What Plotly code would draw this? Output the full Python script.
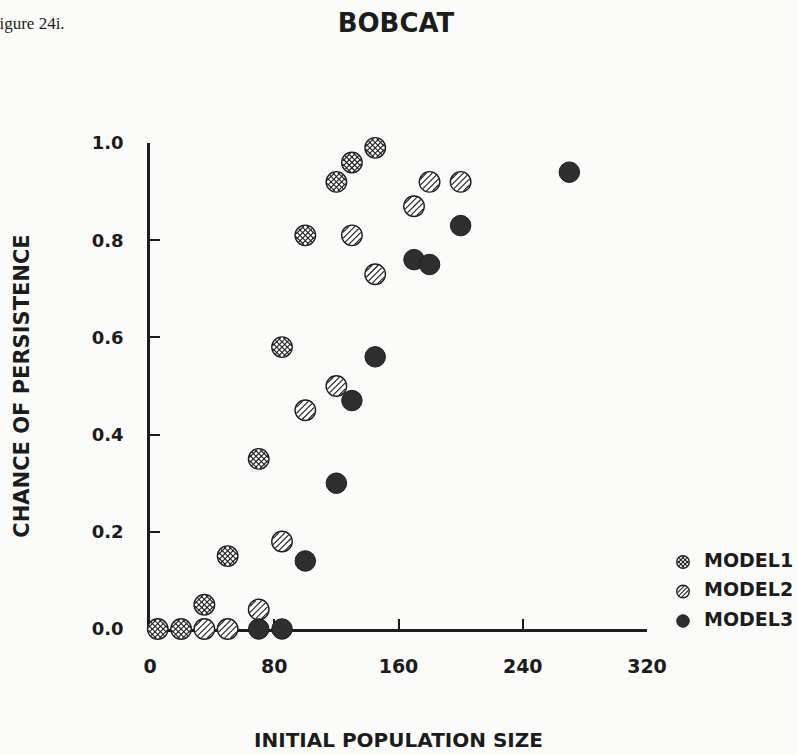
import math
import plotly.graph_objects as go

# ---------------- data ----------------
series_names = ["MODEL1", "MODEL2", "MODEL3"]
model1_x = [5, 20, 35, 50, 70, 85, 100, 120, 130, 145]
model1_y = [0.0, 0.0, 0.05, 0.15, 0.35, 0.58, 0.81, 0.92, 0.96, 0.99]
model2_x = [35, 50, 70, 85, 100, 120, 130, 145, 170, 180, 200]
model2_y = [0.0, 0.0, 0.04, 0.18, 0.45, 0.50, 0.81, 0.73, 0.87, 0.92, 0.92]
model3_x = [70, 85, 100, 120, 130, 145, 170, 180, 200, 270]
model3_y = [0.0, 0.0, 0.14, 0.30, 0.47, 0.56, 0.76, 0.75, 0.83, 0.94]
x_tickvals = [0, 80, 160, 240, 320]
x_ticktext = ["0", "80", "160", "240", "320"]
y_tickvals = [0.0, 0.2, 0.4, 0.6, 0.8, 1.0]
y_ticktext = ["0.0", "0.2", "0.4", "0.6", "0.8", "1.0"]
title_text = "BOBCAT"
figure_label = "Figure 24i."
x_title = "INITIAL POPULATION SIZE"
y_title = "CHANCE OF PERSISTENCE"

# ---------------- geometry / style ----------------
W, H = 798, 755
ML, MR, MT, MB = 100, 4, 100, 90
PW = W - ML - MR          # plot-area width
PH = H - MT - MB          # plot-area height
PA_BOTTOM = H - MB        # pixel row of plot-area bottom

# frame (visible axes) in page pixels
FX0, FX1 = 150, 647       # x = 0 .. 320
FY_TOP, FY_BOT = 143, 629  # y = 1 .. 0
X_RANGE = [0, 320]
Y_RANGE = [0, 1]
PPU_X = (FX1 - FX0) / (X_RANGE[1] - X_RANGE[0])
PPU_Y = (FY_BOT - FY_TOP) / (Y_RANGE[1] - Y_RANGE[0])

# data axes cover the whole plot area with the same scale as the frame
DATA_X_RANGE = [X_RANGE[0] + (ML - FX0) / PPU_X, X_RANGE[0] + (W - MR - FX0) / PPU_X]
DATA_Y_RANGE = [Y_RANGE[0] - (PA_BOTTOM - FY_BOT) / PPU_Y, Y_RANGE[0] + (FY_BOT - MT) / PPU_Y]

LEG_LEFT_PX = 660
LEG_W = W - MR - LEG_LEFT_PX   # 1 unit = 1 px
LEG_GLYPH_X = 23
LEG_TEXT_X = 44
LEG_TOP_PX = 562
LEG_GAP = 29.5

INK = "#1c1c1c"
DARK = "#2e2e2e"
PAPER = "#fbfbfa"
FONT = "DejaVu Sans"

MARK = 20.5      # marker diameter (px)
OUT_W = 1.4      # outline width
HATCH_W = 1.1

fig = go.Figure()
layout_axes = {}
counters = {"x": 3, "y": 3}
base_ranges = {"x2": DATA_X_RANGE, "y2": DATA_Y_RANGE, "x3": [0, LEG_W], "y3": [0, PH]}
shift_cache = {}


def axis_for(kind, base_id, shift):
    """Overlay axis whose range is shifted so marks appear `shift` data units away."""
    if abs(shift) < 1e-9:
        return base_id
    key = (kind, base_id, round(shift, 6))
    if key in shift_cache:
        return shift_cache[key]
    counters[kind] += 1
    n = counters[kind]
    aid = f"{kind}{n}"
    r0, r1 = base_ranges[base_id]
    layout_axes[f"{kind}axis{n}"] = dict(
        overlaying=base_id, range=[r0 - shift, r1 - shift], visible=False,
        fixedrange=True, showgrid=False, zeroline=False,
    )
    shift_cache[key] = aid
    return aid


def add_hatch(xs, ys, xa, ya, ppux, ppuy, r_in, spacing, kmax, symbols, lw):
    for sym in symbols:
        for k in range(-kmax, kmax + 1):
            d = k * spacing
            half = math.sqrt(max(r_in ** 2 - d ** 2, 0.0))
            if half < 1.0:
                continue
            size = half * math.sqrt(2)
            a = d / math.sqrt(2)
            dx = a
            dy = -a if sym == "line-ne" else a
            xid = axis_for("x", xa, dx / ppux)
            yid = axis_for("y", ya, dy / ppuy)
            fig.add_trace(go.Scatter(
                x=xs, y=ys, xaxis=xid, yaxis=yid, mode="markers",
                marker=dict(symbol=sym, size=size, color=INK,
                            line=dict(color=INK, width=lw)),
                cliponaxis=False, showlegend=False, hoverinfo="skip",
            ))


def add_series(xs, ys, xa, ya, ppux, ppuy, diam, kind, name, spacing, kmax):
    if kind == "solid":
        fig.add_trace(go.Scatter(
            x=xs, y=ys, xaxis=xa, yaxis=ya, mode="markers", name=name,
            marker=dict(symbol="circle", size=diam, color=DARK,
                        line=dict(color=INK, width=1)),
            cliponaxis=False, showlegend=False,
        ))
        return
    fig.add_trace(go.Scatter(
        x=xs, y=ys, xaxis=xa, yaxis=ya, mode="markers", name=name,
        marker=dict(symbol="circle", size=diam, color="white",
                    line=dict(color=INK, width=OUT_W)),
        cliponaxis=False, showlegend=False,
    ))
    syms = ["line-ne", "line-nw"] if kind == "cross" else ["line-ne"]
    add_hatch(xs, ys, xa, ya, ppux, ppuy, diam / 2 - 0.8, spacing, kmax, syms, HATCH_W)


# frame subplot (axes only)
fig.add_trace(go.Scatter(x=[], y=[], xaxis="x", yaxis="y", mode="markers",
                         showlegend=False, hoverinfo="skip"))

# ---------------- main scatter (on data axes, same scale as frame) ----------------
add_series(model1_x, model1_y, "x2", "y2", PPU_X, PPU_Y, MARK, "cross", series_names[0], 3.8, 2)
add_series(model2_x, model2_y, "x2", "y2", PPU_X, PPU_Y, MARK, "slash", series_names[1], 4.2, 2)
add_series(model3_x, model3_y, "x2", "y2", PPU_X, PPU_Y, MARK, "solid", series_names[2], 4.2, 2)

# ---------------- legend (drawn on its own small axes) ----------------
leg_y = [PA_BOTTOM - LEG_TOP_PX - i * LEG_GAP for i in range(len(series_names))]
leg_kinds = ["cross", "slash", "solid"]
for i, nm in enumerate(series_names):
    add_series([LEG_GLYPH_X], [leg_y[i]], "x3", "y3", 1.0, 1.0, 12.5, leg_kinds[i], nm, 3.0, 1)
fig.add_trace(go.Scatter(
    x=[LEG_TEXT_X] * len(series_names), y=leg_y, xaxis="x3", yaxis="y3",
    mode="text", text=series_names, textposition="middle right",
    textfont=dict(family=FONT, size=19, color=INK, weight="bold"),
    cliponaxis=False, showlegend=False, hoverinfo="skip",
))

axis_common = dict(
    showline=True, linewidth=2.5, linecolor=INK, ticks="inside", ticklen=10,
    tickwidth=2.2, tickcolor=INK, showgrid=False, zeroline=False,
    layer="below traces", fixedrange=True,
)

fig.update_layout(
    width=W, height=H,
    margin=dict(l=ML, r=MR, t=MT, b=MB, autoexpand=False),
    paper_bgcolor=PAPER, plot_bgcolor="rgba(0,0,0,0)",
    showlegend=False,
    title=dict(text=title_text, x=396 / W, xref="container", xanchor="center",
               y=1 - 23 / H, yref="container", yanchor="middle",
               font=dict(family=FONT, size=26, color=INK, weight="bold")),
    xaxis=dict(domain=[(FX0 - ML) / PW, (FX1 - ML) / PW], range=X_RANGE, anchor="y",
               tickvals=x_tickvals, ticktext=x_ticktext, ticklabelstandoff=18,
               tickfont=dict(family=FONT, size=19, color=INK, weight="bold"),
               title=dict(text=x_title, standoff=58,
                          font=dict(family=FONT, size=20, color=INK, weight="bold")),
               **axis_common),
    yaxis=dict(domain=[(PA_BOTTOM - FY_BOT) / PH, (PA_BOTTOM - FY_TOP) / PH],
               range=Y_RANGE, anchor="x",
               tickvals=y_tickvals, ticktext=y_ticktext, ticklabelstandoff=20,
               tickfont=dict(family=FONT, size=18, color=INK, weight="bold"),
               title=dict(text=y_title, standoff=57,
                          font=dict(family=FONT, size=21, color=INK, weight="bold")),
               **axis_common),
    xaxis2=dict(domain=[0, 1], range=DATA_X_RANGE, anchor="y2", visible=False,
                fixedrange=True, showgrid=False, zeroline=False),
    yaxis2=dict(domain=[0, 1], range=DATA_Y_RANGE, anchor="x2", visible=False,
                fixedrange=True, showgrid=False, zeroline=False),
    xaxis3=dict(domain=[(LEG_LEFT_PX - ML) / PW, 1], range=[0, LEG_W], anchor="y3",
                visible=False, fixedrange=True),
    yaxis3=dict(domain=[0, 1], range=[0, PH], anchor="x3", visible=False, fixedrange=True),
    annotations=[dict(
        text=figure_label, xref="paper", yref="paper",
        x=(67 - ML) / PW, xanchor="right", y=(PA_BOTTOM - 23) / PH, yanchor="middle",
        showarrow=False, font=dict(family="Liberation Serif", size=17, color=INK),
    )],
)
fig.update_layout(**layout_axes)
fig.write_html("out.html")
